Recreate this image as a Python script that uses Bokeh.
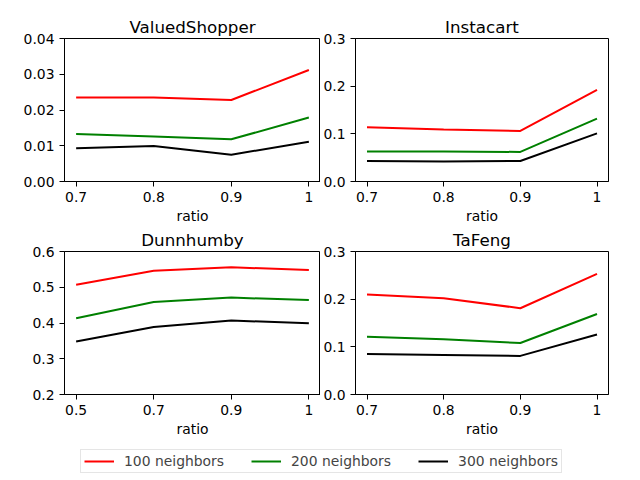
from bokeh.plotting import figure
from bokeh.layouts import column, row
from bokeh.models import FixedTicker, Range1d, Legend, LegendItem, PrintfTickFormatter
from bokeh.embed import file_html
from bokeh.resources import INLINE

FONT = "DejaVu Sans"

# ---- data ----
ratio_labels = ["0.7", "0.8", "0.9", "1"]
ratio_labels_dunnhumby = ["0.5", "0.7", "0.9", "1"]
series_names = ["100 neighbors", "200 neighbors", "300 neighbors"]
series_colors = ["#ff0000", "#008000", "#000000"]

valuedshopper_100 = [0.0235, 0.0235, 0.0228, 0.0312]
valuedshopper_200 = [0.0133, 0.0126, 0.0118, 0.0179]
valuedshopper_300 = [0.0093, 0.0099, 0.0075, 0.0111]

instacart_100 = [0.114, 0.109, 0.106, 0.192]
instacart_200 = [0.063, 0.063, 0.062, 0.132]
instacart_300 = [0.043, 0.042, 0.043, 0.101]

dunnhumby_100 = [0.507, 0.546, 0.556, 0.548]
dunnhumby_200 = [0.413, 0.459, 0.471, 0.464]
dunnhumby_300 = [0.348, 0.389, 0.407, 0.399]

tafeng_100 = [0.210, 0.202, 0.181, 0.253]
tafeng_200 = [0.121, 0.116, 0.108, 0.169]
tafeng_300 = [0.085, 0.083, 0.081, 0.126]


def make(title, labels, series, y0, y1, yticks, fmt, width, height, bl, br, bt, bb):
    p = figure(width=width, height=height, output_backend="svg", toolbar_location=None,
               x_range=Range1d(-0.15, 3.15), y_range=Range1d(y0, y1),
               min_border_left=bl, min_border_right=br, min_border_top=bt, min_border_bottom=bb)
    p.title.text = title
    p.title.align = "center"
    p.title.text_font = FONT
    p.title.text_font_size = "16.7px"
    p.title.text_font_style = "normal"
    p.title.text_color = "black"
    p.title.standoff = 3
    p.outline_line_color = "black"
    p.outline_line_width = 1
    p.outline_line_alpha = 1
    p.xgrid.visible = False
    p.ygrid.visible = False
    p.background_fill_color = "white"
    p.border_fill_color = "white"
    xs = list(range(len(labels)))
    for vals, c in zip(series, series_colors):
        p.line(xs, vals, line_color=c, line_width=2)
    p.xaxis.ticker = FixedTicker(ticks=xs)
    p.xaxis.major_label_overrides = {i: l for i, l in zip(xs, labels)}
    p.yaxis.ticker = FixedTicker(ticks=yticks)
    p.yaxis.formatter = PrintfTickFormatter(format=fmt)
    p.xaxis.axis_label = "ratio"
    for ax in (p.xaxis, p.yaxis):
        ax.major_label_text_font = FONT
        ax.major_label_text_font_size = "13.9px"
        ax.major_label_text_color = "black"
        ax.axis_label_text_font = FONT
        ax.axis_label_text_font_size = "13.9px"
        ax.axis_label_text_font_style = "normal"
        ax.axis_label_text_color = "black"
        ax.axis_label_standoff = 3
        ax.major_tick_out = 5
        ax.major_tick_in = 0
        ax.minor_tick_out = 0
        ax.minor_tick_in = 0
        ax.axis_line_color = "black"
        ax.major_tick_line_color = "black"
    p.xaxis.major_label_standoff = 5
    p.yaxis.major_label_standoff = 5
    return p


p1 = make("ValuedShopper", ratio_labels,
          [valuedshopper_100, valuedshopper_200, valuedshopper_300],
          0, 0.04, [0, 0.01, 0.02, 0.03, 0.04], "%.2f", 320, 226, 64, 0, 38, 44)
p2 = make("Instacart", ratio_labels,
          [instacart_100, instacart_200, instacart_300],
          0, 0.3, [0, 0.1, 0.2, 0.3], "%.1f", 320, 226, 33, 32, 38, 44)
p3 = make("Dunnhumby", ratio_labels_dunnhumby,
          [dunnhumby_100, dunnhumby_200, dunnhumby_300],
          0.2, 0.6, [0.2, 0.3, 0.4, 0.5, 0.6], "%.1f", 320, 214, 64, 0, 25, 46)
p4 = make("TaFeng", ratio_labels,
          [tafeng_100, tafeng_200, tafeng_300],
          0, 0.3, [0, 0.1, 0.2, 0.3], "%.1f", 320, 214, 33, 32, 25, 46)

# legend-only strip
pl = figure(width=640, height=40, output_backend="svg", toolbar_location=None,
            x_range=Range1d(0, 1), y_range=Range1d(0, 1),
            min_border_left=0, min_border_right=0, min_border_top=0, min_border_bottom=0)
pl.axis.visible = False
pl.grid.visible = False
pl.outline_line_color = None
items = []
for name, c in zip(series_names, series_colors):
    r = pl.line([float("nan")], [float("nan")], line_color=c, line_width=2)
    items.append(LegendItem(label=name, renderers=[r]))
leg = Legend(items=items, orientation="horizontal", location=(80, 7),
             padding=3, spacing=27, label_standoff=10, glyph_width=30,
             glyph_height=16, label_height=16, margin=0,
             label_text_font=FONT, label_text_font_size="13.9px",
             border_line_color="#cccccc", border_line_width=1,
             background_fill_color="white", background_fill_alpha=0.8)
pl.add_layout(leg, "center")

layout = column(row(p1, p2), row(p3, p4), pl)

open("out.html", "w").write(file_html(layout, INLINE))
